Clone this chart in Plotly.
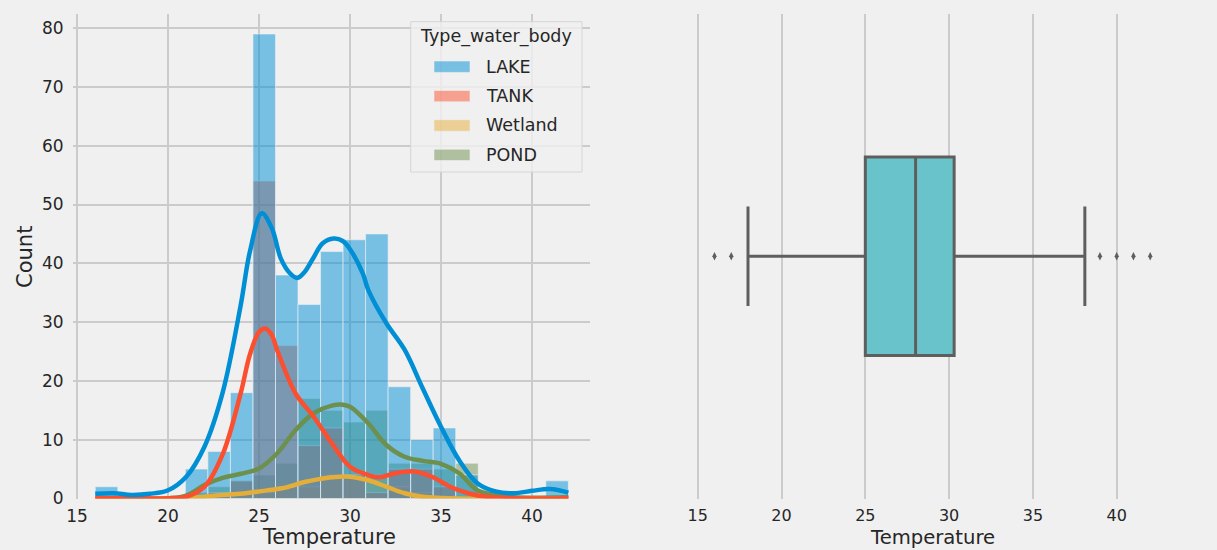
import numpy as np
import plotly.graph_objects as go

# ---- data -------------------------------------------------------------
categories = ["LAKE", "TANK", "Wetland", "POND"]
colors = {"LAKE": (0, 143, 213), "TANK": (252, 79, 48),
          "Wetland": (229, 174, 56), "POND": (109, 144, 79)}

# histogram bins: 21 equal bins spanning 16 .. 42
bin_edges = np.linspace(16, 42, 22)

counts = {
    "LAKE":    [2, 0, 0, 0, 5, 8, 18, 79, 38, 33, 42, 44, 45, 19, 10, 12, 4, 0, 0, 0, 3],
    "TANK":    [0, 0, 0, 0, 0, 1, 3, 54, 26, 9, 12, 4, 1, 5, 5, 2, 0, 0, 0, 0, 0],
    "Wetland": [0, 0, 0, 0, 0, 1, 1, 1, 2, 2, 4, 4, 4, 2, 1, 0, 0, 0, 0, 0, 0],
    "POND":    [0, 0, 0, 0, 1, 2, 3, 4, 6, 17, 15, 13, 15, 6, 6, 5, 6, 0, 0, 0, 0],
}

# kernel density curves (in count units)
kde_x = {
    "LAKE": [16, 17, 18, 19, 20, 21, 22, 23, 24, 24.5, 25.15, 25.7, 26.2, 26.7, 27.1,
             27.5, 28, 28.5, 29.1, 29.6, 30, 30.7, 31, 32, 33, 34, 35, 36, 37, 38,
             39, 40, 41, 42],
    "TANK": [16, 18, 20, 21, 22, 23, 24, 24.5, 25.0, 25.35, 25.7, 26, 27, 28, 29, 30,
             31, 31.6, 32.5, 33.5, 34.5, 35.5, 36.5, 37.5, 39, 42],
    "Wetland": [16, 20, 21, 22, 23, 24, 25, 26, 26.5, 27.5, 28.3, 29, 30, 31, 32, 33,
                34, 35, 36, 42],
    "POND": [16, 20, 21, 22, 23, 24, 25, 26, 27, 28, 29, 29.5, 30, 31, 32, 33, 34, 35,
             36, 37, 38, 39, 42],
}
kde_y = {
    "LAKE": [0.8, 0.9, 0.6, 0.8, 1.4, 3.7, 8.8, 18, 33, 42, 48.5, 46, 40.8, 38.3, 37.5,
             38.5, 41, 43.4, 44.2, 43.8, 42.4, 38.3, 35.5, 29.8, 25.3, 18.7, 12.2, 6.5,
             2.6, 1.2, 0.9, 1.3, 1.6, 1.0],
    "TANK": [0.1, 0.05, 0.05, 0.3, 2.0, 7.5, 18, 24.5, 28.3, 28.9, 27.8, 25.2, 17.9,
             13.9, 9.4, 5.4, 4.0, 3.6, 4.3, 4.6, 3.7, 2.0, 0.9, 0.3, 0.05, 0.05],
    "Wetland": [0.0, 0.05, 0.1, 0.3, 0.6, 0.8, 1.2, 1.6, 1.9, 2.8, 3.3, 3.6, 3.7, 3.1,
                2.0, 0.9, 0.3, 0.1, 0.0, 0.0],
    "POND": [0.0, 0.05, 0.5, 2.3, 3.5, 4.2, 5.1, 7.7, 11.6, 14.5, 15.8, 16.0, 15.6, 12.8,
             9.1, 7.1, 6.4, 5.9, 4.3, 1.4, 0.6, 0.2, 0.2],
}

# temperature box-plot summary
box_q1, box_median, box_q3 = 25.0, 28.0, 30.3
box_low, box_high = 18.0, 38.1
outliers = [16, 17, 39, 40, 41, 42]

x_ticks = [15, 20, 25, 30, 35, 40]
y_ticks = [0, 10, 20, 30, 40, 50, 60, 70, 80]

# ---- figure -----------------------------------------------------------
W, H = 1217, 550
BG = "#f0f0f0"
GRID = "#cbcbcb"
TEXT = "#262626"
FONT = "DejaVu Sans"


def px_x(p):
    return p / W


def px_y(p):
    return 1 - p / H


def rgba(c, a):
    return f"rgba({c[0]},{c[1]},{c[2]},{a})"


fig = go.Figure()

centers = (bin_edges[:-1] + bin_edges[1:]) / 2
widths = np.diff(bin_edges)

# bars: later categories drawn first so LAKE ends on top
for name in reversed(categories):
    fig.add_trace(go.Bar(
        x=centers, y=counts[name], width=widths,
        marker=dict(color=rgba(colors[name], 0.5),
                    line=dict(color="rgba(240,240,240,0.6)", width=1)),
        name=name, showlegend=False, xaxis="x", yaxis="y"))

for name in reversed(categories):
    fig.add_trace(go.Scatter(
        x=kde_x[name], y=kde_y[name], mode="lines",
        line=dict(color=rgba(colors[name], 1), width=4.5, shape="spline", smoothing=1.0),
        showlegend=False, xaxis="x", yaxis="y", cliponaxis=False))

fig.add_trace(go.Box(
    q1=[box_q1], median=[box_median], q3=[box_q3],
    lowerfence=[box_low], upperfence=[box_high], y=[0],
    orientation="h", width=0.41, whiskerwidth=0.5,
    fillcolor="#68c4ca", line=dict(color="#5e5e5e", width=3),
    boxpoints=False, showlegend=False, xaxis="x2", yaxis="y2"))

fig.add_trace(go.Scatter(
    x=outliers, y=[0] * len(outliers), mode="markers",
    marker=dict(symbol="diamond-tall", size=6, color="#5e5e5e"),
    showlegend=False, xaxis="x2", yaxis="y2"))

y_dom = [px_y(498.5), px_y(14)]
axis_common = dict(showgrid=True, gridcolor=GRID, gridwidth=1.5, zeroline=False,
                   showline=False, ticks="", color=TEXT, automargin=False)

fig.update_layout(
    width=W, height=H, margin=dict(l=0, r=0, t=0, b=0, pad=0),
    paper_bgcolor=BG, plot_bgcolor=BG, barmode="overlay",
    font=dict(family=FONT, color=TEXT),
    xaxis=dict(domain=[px_x(72.7), px_x(590)], range=[14.76, 43.19],
               tickvals=x_ticks, tickfont=dict(size=17), ticklabelstandoff=5,
               anchor="y", **axis_common),
    yaxis=dict(domain=y_dom, range=[0, 82.4], tickvals=y_ticks,
               tickfont=dict(size=17), ticklabelstandoff=8, anchor="x",
               **axis_common),
    xaxis2=dict(domain=[px_x(692.7), px_x(1172)], range=[14.7, 43.3],
                tickvals=x_ticks, tickfont=dict(size=16), ticklabelstandoff=5,
                anchor="y2", **axis_common),
    yaxis2=dict(domain=y_dom, range=[-0.5, 0.5], showticklabels=False,
                showgrid=False, zeroline=False, showline=False, anchor="x2",
                automargin=False),
)

# axis titles
annotations = [
    dict(text="Temperature", x=px_x(329), y=px_y(549.5), xref="paper", yref="paper",
         xanchor="center", yanchor="bottom", borderpad=0, showarrow=False,
         font=dict(size=21)),
    dict(text="Temperature", x=px_x(932), y=px_y(549.5), xref="paper", yref="paper",
         xanchor="center", yanchor="bottom", borderpad=0, showarrow=False,
         font=dict(size=19.6)),
    dict(text="Count", x=px_x(25), y=px_y(257), xref="paper", yref="paper",
         xanchor="center", yanchor="middle", textangle=-90, showarrow=False,
         font=dict(size=21)),
]

# legend box
shapes = [dict(type="rect", xref="paper", yref="paper",
               x0=px_x(410.7), x1=px_x(582), y0=px_y(172), y1=px_y(21.7),
               fillcolor="rgba(240,240,240,0.8)", line=dict(color="#d6d6d6", width=1),
               layer="above")]
annotations.append(dict(text="Type_water_body", x=px_x(496), y=px_y(37),
                        xref="paper", yref="paper", xanchor="center",
                        yanchor="middle", showarrow=False, font=dict(size=17.5)))
for i, name in enumerate(categories):
    cy = 66.7 + i * 29.4
    shapes.append(dict(type="rect", xref="paper", yref="paper",
                       x0=px_x(434), x1=px_x(470), y0=px_y(cy + 5.7), y1=px_y(cy - 5.7),
                       fillcolor=rgba(colors[name], 0.5),
                       line=dict(color="rgba(240,240,240,0.6)", width=1), layer="above"))
    annotations.append(dict(text=name, x=px_x(484), y=px_y(cy), xref="paper",
                            yref="paper", xanchor="left", yanchor="middle",
                            showarrow=False, font=dict(size=17.5)))

fig.update_layout(annotations=annotations, shapes=shapes)

fig.write_html("out.html")
